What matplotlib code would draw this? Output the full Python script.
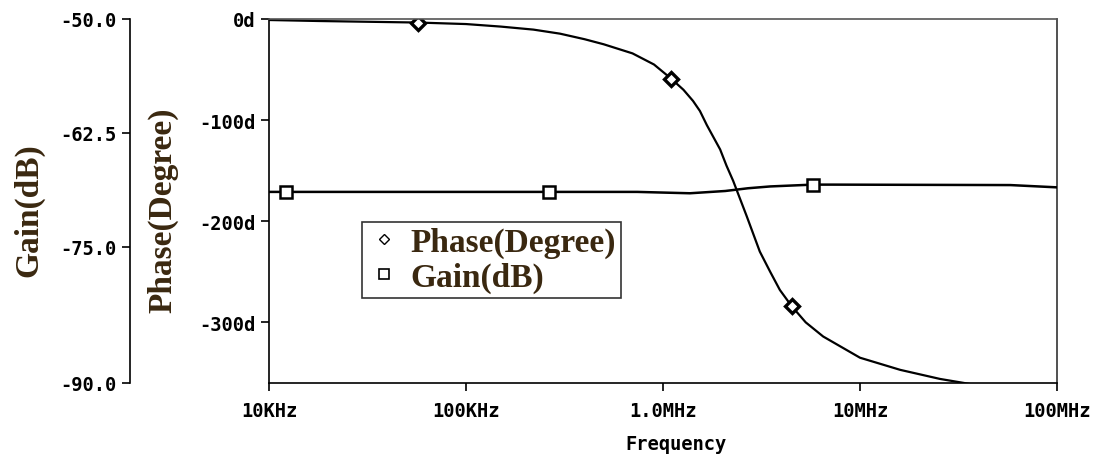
import matplotlib
matplotlib.use("Agg")
import matplotlib.pyplot as plt
from matplotlib.lines import Line2D

# phase response (Hz, degrees)
phase_freq = [1e4, 1.8e4, 5.7e4, 1e5, 1.5e5, 2.2e5, 3e5, 4e5, 5e5, 7e5, 9e5,
              1.1e6, 1.27e6, 1.42e6, 1.54e6, 1.67e6, 1.95e6, 2.1e6, 2.27e6,
              2.66e6, 3.1e6, 3.5e6, 3.92e6, 4.5e6, 5.3e6, 6.5e6, 1e7, 1.6e7,
              2.55e7, 3.5e7, 5e7, 1e8]
phase_deg = [-1.0, -2.0, -3.5, -5.0, -7.5, -10.5, -14.5, -20.0, -25.0, -34.0,
             -45.0, -59.0, -70.0, -81.0, -91.0, -105.0, -129.0, -145.0, -160.0,
             -195.0, -230.0, -250.0, -268.0, -284.0, -300.0, -314.0, -335.0,
             -347.0, -356.0, -360.5, -366.0, -374.0]
phase_marks = [2, 11, 23]

# gain response (Hz, dB)
gain_freq = [1e4, 1.22e4, 2.64e5, 7.4e5, 1.37e6, 2.07e6, 2.7e6, 3.5e6,
             5.77e6, 7.2e6, 5.8e7, 1e8]
gain_db = [-69.0, -69.0, -69.0, -69.0, -69.15, -68.9, -68.6, -68.4,
           -68.2, -68.2, -68.25, -68.5]
gain_marks = [1, 2, 8]

freq_ticks = [1e4, 1e5, 1e6, 1e7, 1e8]
freq_labels = ["10KHz", "100KHz", "1.0MHz", "10MHz", "100MHz"]
phase_ticks = [0, -100, -200, -300]
phase_labels = ["0d", "-100d", "-200d", "-300d"]
gain_ticks = [-50.0, -62.5, -75.0, -90.0]
gain_labels = ["-50.0", "-62.5", "-75.0", "-90.0"]

mono = {"family": "DejaVu Sans Mono", "weight": "bold", "size": 13.5}
serif = {"family": "Liberation Serif", "weight": "bold", "size": 24}
label_color = "#3a2810"

fig = plt.figure(figsize=(11.03, 4.56), dpi=100)
ax = fig.add_axes([269 / 1103, 72 / 456, 788 / 1103, 364 / 456])

ax.plot(phase_freq, phase_deg, color="black", lw=1.6, marker="D", ms=7.5,
        mfc="white", mec="black", mew=2.4, markevery=phase_marks)
ax.set_xscale("log")
ax.set_xlim(1e4, 1e8)
ax.set_ylim(-360, 0)
ax.minorticks_off()
ax.set_xticks(freq_ticks)
ax.set_xticklabels(freq_labels, fontdict=mono)
ax.set_yticks(phase_ticks)
ax.set_yticklabels(phase_labels, fontdict=mono)
ax.tick_params(direction="out", length=6, width=1.2, pad=4, colors="black")
ax.tick_params(axis="x", pad=7)
ax.spines["top"].set_color("#555555")
ax.spines["right"].set_color("#333333")
for s in ax.spines.values():
    s.set_linewidth(1.2)

ax.set_xlabel("Frequency", fontdict=mono)
ax.xaxis.set_label_coords((676 - 269) / 788, -0.14)
ax.set_ylabel("Phase(Degree)", fontdict=serif, color=label_color)
ax.yaxis.set_label_coords((178 - 269) / 788, 0.478)

# gain on its own axis further to the left
ax2 = ax.twinx()
ax2.plot(gain_freq, gain_db, color="black", lw=1.8, marker="s", ms=8,
         mfc="white", mec="black", mew=1.8, markevery=gain_marks)
ax2.set_ylim(-90, -50)
ax2.yaxis.tick_left()
ax2.yaxis.set_label_position("left")
ax2.spines["left"].set_position(("axes", (130 - 269) / 788))
ax2.spines["left"].set_linewidth(1.2)
for side in ["right", "top", "bottom"]:
    ax2.spines[side].set_visible(False)
ax2.set_yticks(gain_ticks)
ax2.set_yticklabels(gain_labels, fontdict=mono)
ax2.tick_params(direction="out", length=6, width=1.2, pad=4)
ax2.set_ylabel("Gain(dB)", fontdict=serif, color=label_color)
ax2.yaxis.set_label_coords((44 - 269) / 788, 0.478)

handles = [
    Line2D([], [], ls="none", marker="D", ms=5, mfc="white", mec="black", mew=1),
    Line2D([], [], ls="none", marker="s", ms=7, mfc="white", mec="black", mew=1.2),
]
leg = ax2.legend(handles, ["Phase(Degree)", "Gain(dB)"], loc="upper left",
                 bbox_to_anchor=(0.118, 0.442), prop=serif, frameon=True,
                 fancybox=False, edgecolor="black", borderpad=0.15,
                 labelspacing=0.1, handletextpad=0.3, handlelength=1.0,
                 borderaxespad=0)
leg.get_frame().set_linewidth(1.2)
for t in leg.get_texts():
    t.set_color(label_color)

fig.savefig("out.png", dpi=100)
